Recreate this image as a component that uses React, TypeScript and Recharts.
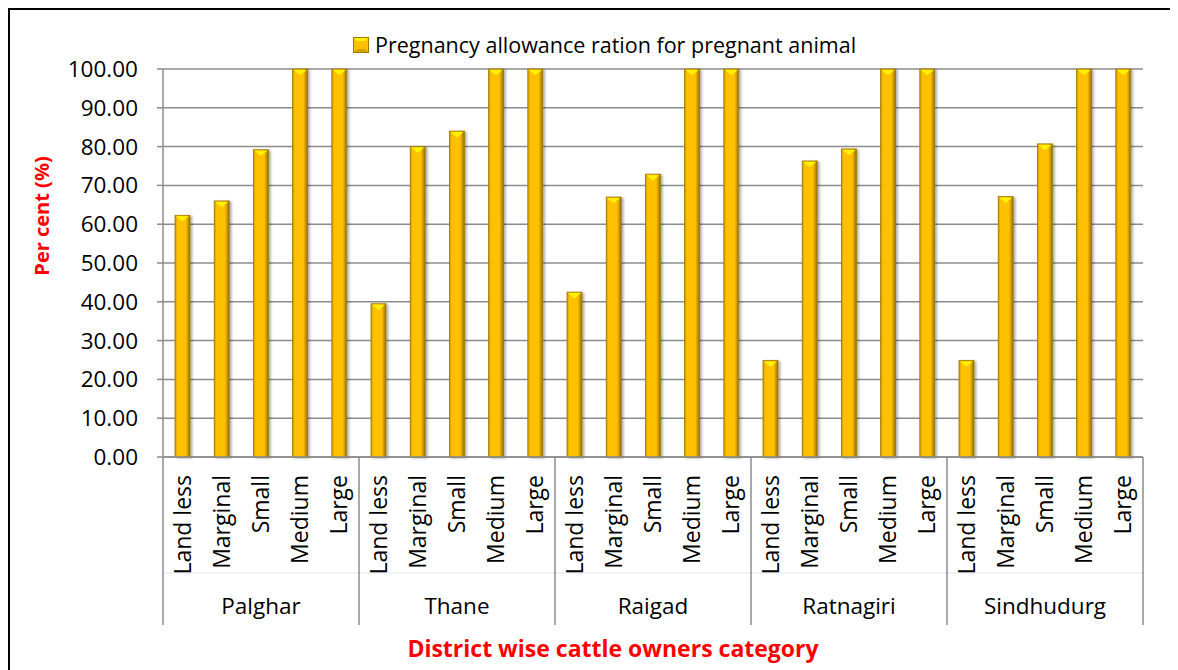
import { Bar, BarChart, CartesianGrid, XAxis, YAxis } from "recharts";

const districts = ["Palghar", "Thane", "Raigad", "Ratnagiri", "Sindhudurg"];
const ownerCategories = ["Land less", "Marginal", "Small", "Medium", "Large"];

// per cent of owners giving pregnancy allowance ration, per district
const palghar = [62.3, 66.0, 79.2, 100, 100];
const thane = [39.5, 80.0, 84.0, 100, 100];
const raigad = [42.5, 67.0, 72.9, 100, 100];
const ratnagiri = [24.9, 76.3, 79.4, 100, 100];
const sindhudurg = [24.9, 67.1, 80.7, 100, 100];

const yTicks = [0, 10, 20, 30, 40, 50, 60, 70, 80, 90, 100];

const seriesName = "Pregnancy allowance ration for pregnant animal";

const districtValues = [palghar, thane, raigad, ratnagiri, sindhudurg];

const data = districts.flatMap((district, d) =>
    ownerCategories.map((category, c) => ({
        key: `${district}-${category}`,
        district,
        category,
        catIndex: c,
        value: districtValues[d][c],
    }))
);

const FONT = "'Open Sans', 'Noto Sans', sans-serif";
const AXIS_GRAY = "#8c8c8c";

const BevelBar = (props: any) => {
    const { x, y, width, height } = props;
    if (!height || height <= 0) return null;
    const tip = Math.min(width * 0.42, height);
    return (
        <g filter="url(#barShadow)">
            <rect
                x={x}
                y={y}
                width={width}
                height={height}
                fill="url(#barBody)"
                stroke="#a07a00"
                strokeWidth={0.8}
            />
            <polygon
                points={`${x + 1},${y + 1} ${x + width - 1},${y + 1} ${x + width / 2},${y + tip}`}
                fill="#fff200"
            />
        </g>
    );
};

const CategoryTick = (props: any) => {
    const { x, y, payload } = props;
    const row = data[payload.index];
    if (!row) return null;
    const half = payload.offset || 19.6;
    const isFirst = row.catIndex === 0;
    const isLast = payload.index === data.length - 1;
    return (
        <g>
            <line
                x1={x - half}
                x2={x + half}
                y1={y + 116}
                y2={y + 116}
                stroke="#e4e4e4"
                strokeWidth={1}
            />
            {isFirst && (
                <line x1={x - half} x2={x - half} y1={y} y2={y + 168} stroke={AXIS_GRAY} strokeWidth={1.5} />
            )}
            {isLast && (
                <line x1={x + half} x2={x + half} y1={y} y2={y + 168} stroke={AXIS_GRAY} strokeWidth={1.5} />
            )}
            <text
                x={x}
                y={y + 18}
                dy="0.35em"
                transform={`rotate(-90, ${x}, ${y + 18})`}
                textAnchor="end"
                fontFamily={FONT}
                fontSize={23}
                fill="#000"
            >
                {row.category}
            </text>
            {row.catIndex === 2 && (
                <text
                    x={x}
                    y={y + 157}
                    textAnchor="middle"
                    fontFamily={FONT}
                    fontSize={22.5}
                    fill="#000"
                >
                    {row.district}
                </text>
            )}
        </g>
    );
};

const App = () => {
    return (
        <div
            style={{
                position: "relative",
                width: 1166,
                height: 660,
                border: "2px solid #000",
                borderBottom: "none",
                background: "#fff",
            }}
        >
            <style>{"html, body { overflow: hidden; }"}</style>
            <div
                style={{
                    position: "absolute",
                    top: 20,
                    left: 343,
                    display: "flex",
                    alignItems: "center",
                    fontFamily: FONT,
                    fontSize: 21.5,
                    color: "#000",
                    whiteSpace: "nowrap",
                }}
            >
                <svg width={16} height={16} style={{ marginRight: 6 }}>
                    <rect x={0.5} y={0.5} width={15} height={15} fill="#ffc000" stroke="#a07a00" />
                    <polygon points="1,1 15,1 12,4 4,4" fill="#fff200" />
                    <polygon points="1,15 15,15 12,12 4,12" fill="#d9a300" />
                </svg>
                <span>{seriesName}</span>
            </div>

            <BarChart
                width={1166}
                height={660}
                data={data}
                margin={{ top: 59, right: 33, bottom: 45, left: 53 }}
                barSize={15}
            >
                <defs>
                    <linearGradient id="barBody" x1="0" y1="0" x2="1" y2="0">
                        <stop offset="0%" stopColor="#c08f00" />
                        <stop offset="15%" stopColor="#ffc000" />
                        <stop offset="72%" stopColor="#ffc000" />
                        <stop offset="100%" stopColor="#927000" />
                    </linearGradient>
                    <filter id="barShadow" x="-30%" y="-5%" width="170%" height="115%">
                        <feDropShadow dx="2" dy="1" stdDeviation="1.2" floodColor="#000" floodOpacity="0.3" />
                    </filter>
                </defs>

                <CartesianGrid vertical={false} stroke={AXIS_GRAY} strokeWidth={1.5} />

                <XAxis
                    dataKey="key"
                    interval={0}
                    height={168}
                    tickSize={0}
                    tickMargin={0}
                    tickLine={false}
                    axisLine={{ stroke: AXIS_GRAY, strokeWidth: 1.5 }}
                    tick={<CategoryTick />}
                    label={{
                        content: ({ viewBox }: any) => (
                            <text
                                x={viewBox.x + viewBox.width / 2 - 40}
                                y={viewBox.y + viewBox.height + 32}
                                textAnchor="middle"
                                fontFamily={FONT}
                                fontWeight={700}
                                fontSize={23}
                                fill="#ff0000"
                            >
                                District wise cattle owners category
                            </text>
                        ),
                    }}
                />

                <YAxis
                    width={100}
                    domain={[0, 100]}
                    ticks={yTicks}
                    interval={0}
                    tickFormatter={(v: number) => v.toFixed(2)}
                    tickSize={6}
                    tickMargin={19}
                    tickLine={{ stroke: AXIS_GRAY, strokeWidth: 1.5 }}
                    axisLine={{ stroke: AXIS_GRAY, strokeWidth: 1.5 }}
                    tick={{ fontFamily: FONT, fontSize: 22.5, fill: "#000" }}
                    label={{
                        content: ({ viewBox }: any) => (
                            <text
                                x={viewBox.x - 22}
                                y={206}
                                transform={`rotate(-90, ${viewBox.x - 22}, 206)`}
                                textAnchor="middle"
                                dominantBaseline="central"
                                fontFamily={FONT}
                                fontWeight={700}
                                fontSize={20}
                                fill="#ff0000"
                            >
                                Per cent (%)
                            </text>
                        ),
                    }}
                />

                <Bar
                    dataKey="value"
                    name={seriesName}
                    fill="#ffc000"
                    shape={<BevelBar />}
                    isAnimationActive={false}
                />
            </BarChart>
        </div>
    );
};

export default App;
